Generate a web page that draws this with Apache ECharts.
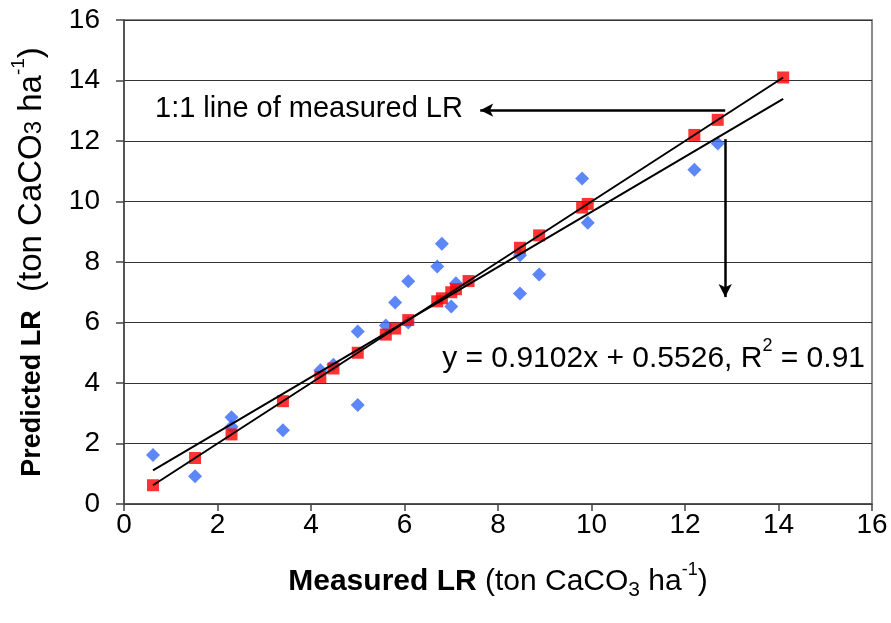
<!DOCTYPE html>
<html>
<head>
<meta charset="utf-8">
<script src="https://cdn.jsdelivr.net/npm/echarts@6/dist/echarts.min.js"></script>
<style>
html, body { margin: 0; padding: 0; background: #fff; }
#chart { width: 891px; height: 623px; }
</style>
</head>
<body>
<div id="chart"></div>
<script>
// measured LR (x) for every sample, ton CaCO3/ha
var measured = [0.62, 1.52, 2.3, 2.3, 3.4, 4.2, 4.48, 5.0, 5.0, 5.6, 5.8, 6.08, 6.08, 6.7, 6.8, 7.0, 7.1, 8.47, 8.47, 8.88, 9.8, 9.92, 12.2, 12.7];
// predicted LR (y)
var predicted = [1.62, 0.92, 2.87, 2.55, 2.44, 4.42, 4.6, 3.27, 5.7, 5.9, 6.66, 7.36, 6.0, 7.85, 8.6, 6.53, 7.3, 6.96, 8.22, 7.59, 10.76, 9.3, 11.05, 11.92];
// red squares sit on the 1:1 line (measured vs measured)
var oneToOne = [0.62, 1.52, 2.3, 3.4, 4.2, 4.48, 5.0, 5.6, 5.8, 6.08, 6.7, 6.8, 7.0, 7.1, 7.37, 8.47, 8.88, 9.8, 9.92, 12.2, 12.7, 14.1];
// end points of the two straight lines
var lineOneToOne = [[0.62, 0.62], [14.1, 14.1]];
var lineFit = [[0.62, 1.11], [14.1, 13.39]];
// annotation arrows (data coords)
var arrowLeft = [[12.86, 13.02], [7.62, 13.02]];
var arrowDown = [[12.86, 12.06], [12.86, 6.84]];

var xTicks = { min: 0, max: 16, interval: 2 };
var yTicks = { min: 0, max: 16, interval: 2 };

var FONT = '"Liberation Sans", Arial, sans-serif';

var chart = echarts.init(document.getElementById('chart'));

var bluePts = [];
for (var i = 0; i < measured.length; i++) {
    bluePts.push([measured[i], predicted[i]]);
}
var redPts = [];
for (var k = 0; k < oneToOne.length; k++) {
    redPts.push([oneToOne[k], oneToOne[k]]);
}

var xNameRich = {
    b: { fontFamily: FONT, fontWeight: 'bold', fontSize: 30, color: '#000', lineHeight: 38, verticalAlign: 'bottom' },
    n: { fontFamily: FONT, fontSize: 30, color: '#000', lineHeight: 38, verticalAlign: 'bottom' },
    sub: { fontFamily: FONT, fontSize: 21, color: '#000', lineHeight: 38, verticalAlign: 'bottom', padding: [0, 0, -4, 0] },
    sup: { fontFamily: FONT, fontSize: 18, color: '#000', lineHeight: 38, verticalAlign: 'top', padding: [2, 0, 0, 0] }
};
var yNameRich = {
    b: { fontFamily: FONT, fontWeight: 'bold', fontSize: 27, color: '#000', lineHeight: 40, verticalAlign: 'bottom', padding: [0, 0, 2, 0] },
    n: { fontFamily: FONT, fontSize: 33, color: '#000', lineHeight: 40, verticalAlign: 'bottom' },
    sub: { fontFamily: FONT, fontSize: 24, color: '#000', lineHeight: 40, verticalAlign: 'bottom', padding: [0, 0, 2, 0] },
    sup: { fontFamily: FONT, fontSize: 19, color: '#000', lineHeight: 40, verticalAlign: 'top', padding: [1, 0, 0, 0] }
};

var option = {
    backgroundColor: '#fff',
    animation: false,
    textStyle: { fontFamily: FONT },
    grid: {
        left: 124, right: 19, top: 20, bottom: 119,
        show: true, borderColor: '#8a8a8a', borderWidth: 2,
        outerBoundsMode: 'none'
    },
    xAxis: {
        type: 'value',
        min: xTicks.min, max: xTicks.max, interval: xTicks.interval,
        name: '{b|Measured LR}{n| (ton CaCO}{sub|3}{n| ha}{sup|-1}{n|)}',
        nameLocation: 'middle',
        nameGap: 55,
        nameTextStyle: { rich: xNameRich },
        axisLine: { onZero: false, lineStyle: { color: '#444', width: 1.5 } },
        axisTick: { show: true, inside: false, length: 7, lineStyle: { color: '#444', width: 1.5 } },
        axisLabel: { color: '#000', fontSize: 28, fontFamily: FONT, margin: 7 },
        splitLine: { show: false }
    },
    yAxis: {
        type: 'value',
        min: yTicks.min, max: yTicks.max, interval: yTicks.interval,
        name: '{b|Predicted LR}{n|  (ton CaCO}{sub|3}{n| ha}{sup|-1}{n|)}',
        nameLocation: 'middle',
        nameGap: 76,
        nameTextStyle: { rich: yNameRich },
        axisLine: { onZero: false, lineStyle: { color: '#444', width: 1.5 } },
        axisTick: { show: true, inside: false, length: 8, lineStyle: { color: '#444', width: 1.5 } },
        axisLabel: { color: '#000', fontSize: 28, fontFamily: FONT, margin: 24 },
        splitLine: { show: true, lineStyle: { color: '#333', width: 1.2 } }
    },
    series: [
        {
            name: 'predicted',
            type: 'scatter',
            symbol: 'diamond',
            symbolSize: 14,
            itemStyle: { color: '#3469f7' },
            data: bluePts,
            z: 2
        },
        {
            name: 'measured',
            type: 'scatter',
            symbol: 'rect',
            symbolSize: 12,
            itemStyle: { color: '#ff0000' },
            data: redPts,
            z: 3
        },
        {
            name: '1:1',
            type: 'line',
            data: lineOneToOne,
            symbol: 'none',
            lineStyle: { color: '#000', width: 2 },
            z: 4,
            markLine: {
                silent: true,
                symbol: ['none', 'arrow'],
                symbolSize: [10, 13],
                label: { show: false },
                lineStyle: { color: '#000', width: 2.5, type: 'solid' },
                data: [
                    [{ coord: arrowLeft[0] }, { coord: arrowLeft[1] }],
                    [{ coord: arrowDown[0] }, { coord: arrowDown[1] }]
                ]
            }
        },
        {
            name: 'fit',
            type: 'line',
            data: lineFit,
            symbol: 'none',
            lineStyle: { color: '#000', width: 2 },
            z: 4
        }
    ],
    graphic: [
        {
            type: 'text',
            left: 155, top: 94,
            style: { text: '1:1 line of measured LR', fontFamily: FONT, fontSize: 29, fill: '#000' }
        },
        {
            type: 'text',
            right: 26, top: 336,
            style: {
                text: '{n|y = 0.9102x + 0.5526, R}{sup|2}{n| = 0.91}',
                rich: {
                    n: { fontFamily: FONT, fontSize: 30, fill: '#000', lineHeight: 38, verticalAlign: 'bottom' },
                    sup: { fontFamily: FONT, fontSize: 18, fill: '#000', lineHeight: 38, verticalAlign: 'top', padding: [1, 0, 0, 0] }
                }
            }
        }
    ]
};

chart.setOption(option);
</script>
</body>
</html>
